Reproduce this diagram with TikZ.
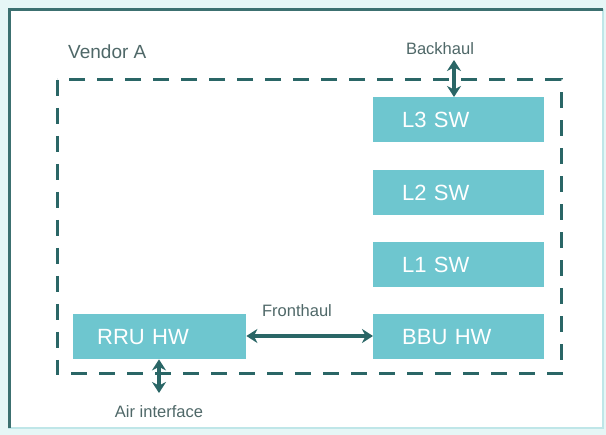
\documentclass[tikz,border=0pt]{standalone}
\usepackage{fontspec}
\setmainfont{Liberation Sans}
\usetikzlibrary{arrows.meta}
\definecolor{darkteal}{HTML}{2A6666}
\definecolor{boxfill}{HTML}{6EC6CF}
\definecolor{labelgrey}{HTML}{4F6868}
\definecolor{bgcyan}{HTML}{E6F6F6}
\definecolor{framedark}{HTML}{3C7070}
\definecolor{framelight}{HTML}{BFE6E8}
\tikzset{
  hwbox/.style={fill=boxfill, draw=none, minimum height=45pt, align=left,
    text=white, font=\fontsize{22}{26}\selectfont, inner ysep=0pt, anchor=north west},
  swbox/.style={hwbox, inner xsep=29pt, text width=113pt},
  rrubox/.style={hwbox, inner xsep=24pt, text width=125pt},
  lbl/.style={text=labelgrey, font=\fontsize{16.5}{19}\selectfont, inner sep=0pt},
  link/.style={draw=darkteal, line width=4pt,
    {Stealth[length=11pt,width=14pt]}-{Stealth[length=11pt,width=14pt]}},
  vendorbox/.style={draw=darkteal, line width=3pt, dash pattern=on 16pt off 12pt}
}
\begin{document}
\begin{tikzpicture}[x=1pt,y=-1pt]
\useasboundingbox (0,0) rectangle (606,435);
\fill[bgcyan] (0,0) rectangle (606,435);
\fill[white] (8,9) rectangle (603,428);
\draw[framelight, line width=1.5pt] (603,9) -- (603,428) -- (8,428);
\draw[framedark, line width=3pt] (9,428) -- (9,10) -- (603,10);

\draw[vendorbox] (57,80) rectangle (561,374);
\node[lbl, anchor=west, font=\fontsize{19}{22}\selectfont] (vendor) at (68,52) {Vendor A};

\node[swbox] (l3) at (373,97) {L3 SW};
\node[swbox] (l2) at (373,170) {L2 SW};
\node[swbox] (l1) at (373,242) {L1 SW};
\node[swbox] (bbu) at (373,314) {BBU HW};
\node[rrubox] (rru) at (73,314) {RRU HW};

\node[lbl] (backhaul) at (440,49) {Backhaul};
\coordinate (bhtop) at (454,60);
\draw[link] (bhtop) -- (bhtop |- l3.north);

\node[lbl] (fronthaul) at (297,311) {Fronthaul};
\draw[link] (rru.east |- 0,336) -- (bbu.west |- 0,336);

\coordinate (airbot) at (159,393);
\draw[link] (airbot |- rru.south) -- (airbot);
\node[lbl] (air) at (159,412) {Air interface};
\end{tikzpicture}
\end{document}
